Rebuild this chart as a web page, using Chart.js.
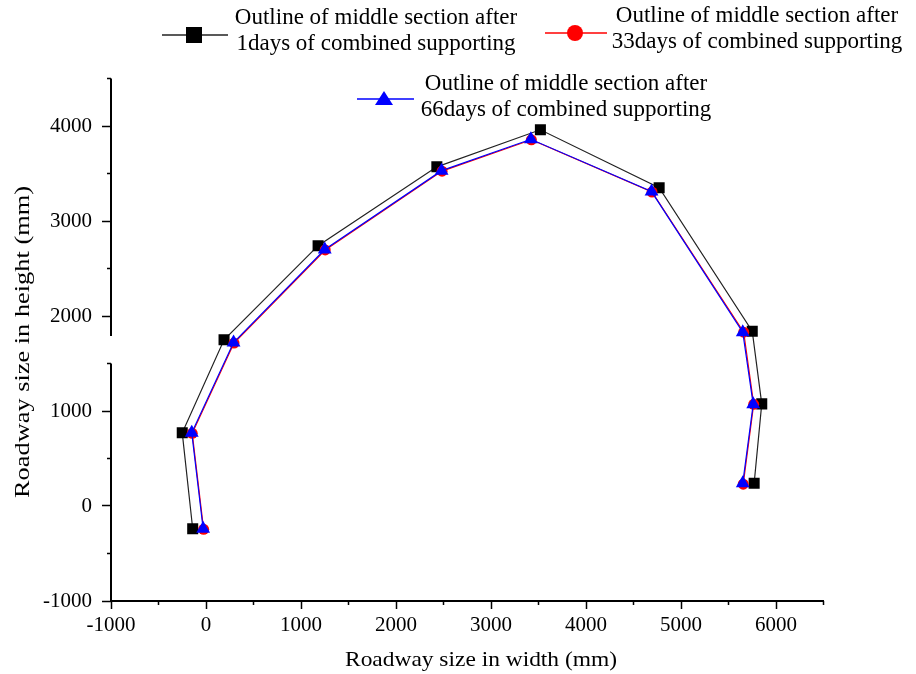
<!DOCTYPE html>
<html><head><meta charset="utf-8">
<script src="https://cdn.jsdelivr.net/npm/chart.js@4"></script>
<style>html,body{margin:0;padding:0;background:#fff}#wrap{width:916px;height:674px}</style>
</head><body><div id="wrap"><canvas id="c" width="916" height="674"></canvas></div>
<script>
// ---- data ----
const seriesLine1 = ['Outline of middle section after', 'Outline of middle section after', 'Outline of middle section after'];
const seriesLine2 = ['1days of combined supporting', '33days of combined supporting', '66days of combined supporting'];

const xDay1  = [-140, -250, 190, 1180, 2430, 3520, 4770, 5750, 5850, 5770];
const yDay1  = [-240,  770, 1750, 2740, 3570, 3960, 3350, 1840, 1075, 240];
const xDay33 = [-25, -145, 295, 1255, 2485, 3425, 4695, 5660, 5765, 5655];
const yDay33 = [-245, 765, 1715, 2695, 3525, 3855, 3305, 1830, 1070, 230];
const xDay66 = [-30, -150, 290, 1250, 2480, 3420, 4690, 5650, 5760, 5650];
const yDay66 = [-240, 770, 1720, 2700, 3530, 3860, 3310, 1830, 1070, 240];

const xMin = -1000, xMax = 6500, yMin = -1000, yMax = 4500;
const minorStep = 500, majorStep = 1000;
const yBreakFrom = 1500, yBreakTo = 1790;
const xTitle = 'Roadway size in width (mm)';
const yTitle = 'Roadway size in height (mm)';

const pts = (xs, ys) => xs.map((x, i) => ({x: x, y: ys[i]}));
const SERIF = '"Liberation Serif", "Times New Roman", serif';

const decoPlugin = {
  id: 'deco',
  afterDraw(chart) {
    const {ctx, chartArea: ca, scales: {x, y}} = chart;
    ctx.save();
    // y axis line with break
    ctx.strokeStyle = '#000';
    ctx.lineWidth = 2;
    ctx.beginPath();
    ctx.moveTo(ca.left, ca.bottom + 1);
    ctx.lineTo(ca.left, y.getPixelForValue(yBreakFrom));
    ctx.moveTo(ca.left, y.getPixelForValue(yBreakTo));
    ctx.lineTo(ca.left, ca.top);
    ctx.stroke();
    // minor ticks
    ctx.lineWidth = 1.5;
    ctx.beginPath();
    y.ticks.forEach(t => {
      if (t.value % majorStep === 0) return;
      const p = y.getPixelForValue(t.value);
      ctx.moveTo(ca.left - 4, p); ctx.lineTo(ca.left, p);
    });
    x.ticks.forEach(t => {
      if (t.value % majorStep === 0) return;
      const p = x.getPixelForValue(t.value);
      ctx.moveTo(p, ca.bottom); ctx.lineTo(p, ca.bottom + 4);
    });
    ctx.stroke();

    // axis titles
    ctx.fillStyle = '#000';
    ctx.font = '22px ' + SERIF;
    ctx.textAlign = 'center';
    ctx.textBaseline = 'middle';
    let w = ctx.measureText(xTitle).width;
    ctx.save();
    ctx.translate(481, 660);
    ctx.scale(272 / w, 1);
    ctx.fillText(xTitle, 0, 0);
    ctx.restore();
    w = ctx.measureText(yTitle).width;
    ctx.save();
    ctx.translate(23, 342);
    ctx.rotate(-Math.PI / 2);
    ctx.scale(312 / w, 1);
    ctx.fillText(yTitle, 0, 0);
    ctx.restore();

    // legend
    const entries = [
      {x0: 162, x1: 228, mx: 194, my: 35, tx: 376, b1: 24, b2: 50, color: '#222', fill: '#000', shape: 'rect'},
      {x0: 545, x1: 607, mx: 575, my: 33, tx: 757, b1: 22, b2: 48, color: '#ff0000', fill: '#ff0000', shape: 'circle'},
      {x0: 357, x1: 414, mx: 384, my: 99, tx: 566, b1: 90, b2: 116, color: '#0000ff', fill: '#0000ff', shape: 'triangle'}
    ];
    entries.forEach((e, i) => {
      ctx.strokeStyle = e.color;
      ctx.lineWidth = 1.5;
      ctx.beginPath(); ctx.moveTo(e.x0, e.my); ctx.lineTo(e.x1, e.my); ctx.stroke();
      ctx.fillStyle = e.fill;
      ctx.beginPath();
      if (e.shape === 'rect') ctx.rect(e.mx - 8, e.my - 8, 16, 16);
      else if (e.shape === 'circle') ctx.arc(e.mx, e.my, 8, 0, Math.PI * 2);
      else { ctx.moveTo(e.mx, e.my - 8); ctx.lineTo(e.mx + 9, e.my + 6); ctx.lineTo(e.mx - 9, e.my + 6); ctx.closePath(); }
      ctx.fill();
      ctx.fillStyle = '#000';
      ctx.font = '23px ' + SERIF;
      ctx.textAlign = 'center';
      ctx.textBaseline = 'alphabetic';
      ctx.fillText(seriesLine1[i], e.tx, e.b1);
      ctx.fillText(seriesLine2[i], e.tx, e.b2);
    });
    ctx.restore();
  }
};

const tickColor = c => (c.tick && c.tick.value % majorStep === 0) ? '#000' : 'rgba(0,0,0,0)';

new Chart(document.getElementById('c'), {
  type: 'scatter',
  data: {
    datasets: [
      {label: seriesLine1[0] + ' ' + seriesLine2[0], data: pts(xDay1, yDay1), showLine: true,
       borderColor: '#222', borderWidth: 1.2, pointStyle: 'rect', pointRadius: 7.8,
       pointBackgroundColor: '#000', pointBorderColor: '#000', pointBorderWidth: 0, order: 3},
      {label: seriesLine1[1] + ' ' + seriesLine2[1], data: pts(xDay33, yDay33), showLine: true,
       borderColor: '#ff0000', borderWidth: 1.2, pointStyle: 'circle', pointRadius: 5.5,
       pointBackgroundColor: '#ff0000', pointBorderColor: '#ff0000', pointBorderWidth: 0, order: 2},
      {label: seriesLine1[2] + ' ' + seriesLine2[2], data: pts(xDay66, yDay66), showLine: true,
       borderColor: '#0000ff', borderWidth: 1.2, pointStyle: 'triangle', pointRadius: 8,
       pointBackgroundColor: '#0000ff', pointBorderColor: '#0000ff', pointBorderWidth: 0, order: 1}
    ]
  },
  options: {
    responsive: false, animation: false, devicePixelRatio: 1,
    layout: {padding: {left: 0, right: 92.5, top: 78.5, bottom: 0}},
    plugins: {legend: {display: false}, tooltip: {enabled: false}},
    scales: {
      x: {
        type: 'linear', min: xMin, max: xMax,
        ticks: {stepSize: minorStep, autoSkip: false, maxRotation: 0, padding: 4, color: '#000',
                font: {family: SERIF, size: 21},
                callback: v => v % majorStep === 0 ? String(v) : ''},
        grid: {drawOnChartArea: false, tickLength: 8, tickWidth: 1.5, tickColor: tickColor},
        border: {display: true, color: '#000', width: 2},
        afterFit(s) { s.height = 73; }
      },
      y: {
        type: 'linear', min: yMin, max: yMax,
        ticks: {stepSize: minorStep, autoSkip: false, padding: 10, color: '#000',
                font: {family: SERIF, size: 21},
                callback: v => v % majorStep === 0 ? String(v) : ''},
        grid: {drawOnChartArea: false, tickLength: 9, tickWidth: 1.5, tickColor: tickColor},
        border: {display: false},
        afterFit(s) { s.width = 111; }
      }
    }
  },
  plugins: [decoPlugin]
});
</script>
</body></html>
